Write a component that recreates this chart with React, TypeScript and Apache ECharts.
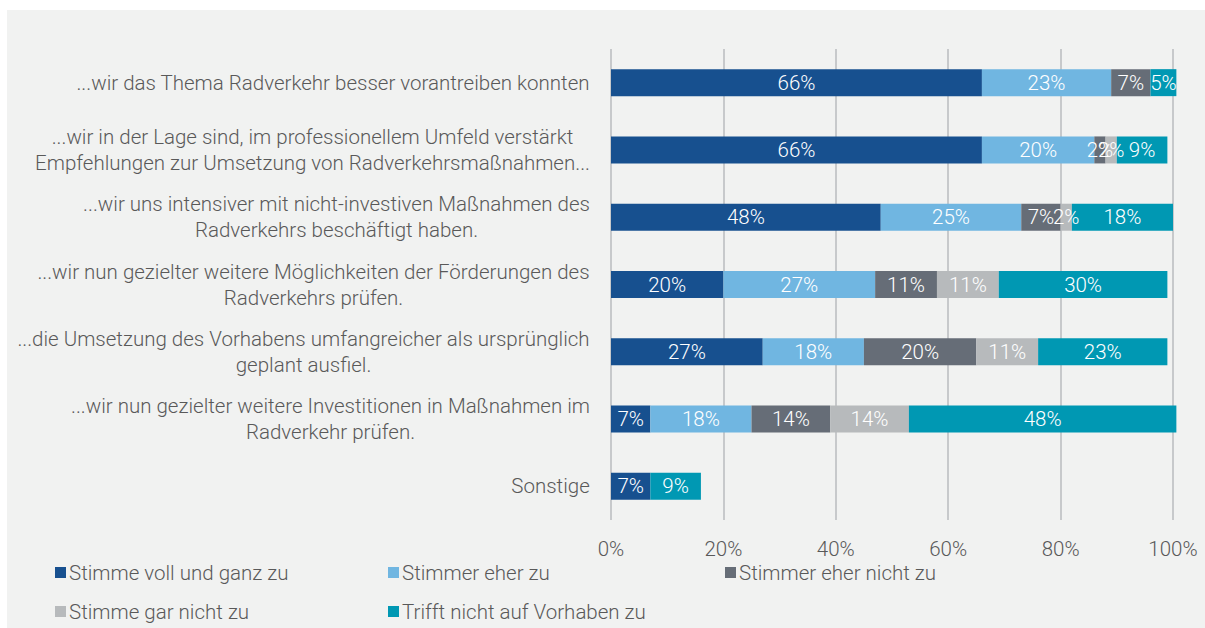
import React, { useEffect, useRef } from "react";
import * as echarts from "echarts";

const categories = [
  "...wir das Thema Radverkehr besser vorantreiben konnten",
  "...wir in der Lage sind, im professionellem Umfeld verstärkt\nEmpfehlungen zur Umsetzung von Radverkehrsmaßnahmen...",
  "...wir uns intensiver mit nicht-investiven Maßnahmen des\nRadverkehrs beschäftigt haben.",
  "...wir nun gezielter weitere Möglichkeiten der Förderungen des\nRadverkehrs prüfen.",
  "...die Umsetzung des Vorhabens umfangreicher als ursprünglich\ngeplant ausfiel.",
  "...wir nun gezielter weitere Investitionen in Maßnahmen im\nRadverkehr prüfen.",
  "Sonstige",
];

const seriesNames = [
  "Stimme voll und ganz zu",
  "Stimmer eher zu",
  "Stimmer eher nicht zu",
  "Stimme gar nicht zu",
  "Trifft nicht auf Vorhaben zu",
];

const vollUndGanz = [66, 66, 48, 20, 27, 7, 7];
const eherZu = [23, 20, 25, 27, 18, 18, 0];
const eherNicht = [7, 2, 7, 11, 20, 14, 0];
const garNicht = [0, 2, 2, 11, 11, 14, 0];
const trifftNicht = [4.6, 9, 18, 30, 23, 47.6, 9];

const xTicks = [0, 20, 40, 60, 80, 100];

const colors = ["#17508f", "#70b6e1", "#666d77", "#b7babc", "#0098b3"];

const FONT = "Roboto";
const TEXT_COLOR = "#595959";
const FS = 20.5;
const FW = 300;

function measure(text: string): number {
  const c = document.createElement("canvas");
  const ctx = c.getContext("2d");
  if (!ctx) return text.length * 10;
  ctx.font = `${FW} ${FS}px ${FONT}`;
  return ctx.measureText(text).width;
}

export default function App() {
  const ref = useRef<HTMLDivElement>(null);

  useEffect(() => {
    if (!ref.current) return;
    const chart = echarts.init(ref.current, undefined, { renderer: "svg" });

    const rich: Record<string, any> = {};
    categories.forEach((c, i) => {
      const lines = c.split("\n");
      const w = Math.ceil(Math.max(...lines.map(measure)));
      rich["c" + i] = {
        width: w,
        align: "center",
        fontSize: FS,
        fontWeight: FW,
        fontFamily: FONT,
        color: TEXT_COLOR,
        lineHeight: 26,
      };
    });

    const data = [vollUndGanz, eherZu, eherNicht, garNicht, trifftNicht];

    const legendPos = [
      { left: 55, top: 562 },
      { left: 388, top: 562 },
      { left: 725, top: 562 },
      { left: 55, top: 601 },
      { left: 388, top: 601 },
    ];

    chart.setOption({
      animation: false,
      backgroundColor: "#ffffff",
      graphic: [
        {
          type: "rect",
          shape: { x: 7, y: 10, width: 1198, height: 618 },
          style: { fill: "#f1f2f1" },
          z: -10,
          silent: true,
        },
      ],
      grid: { left: 611, right: 32, top: 49, bottom: 108, containLabel: false },
      legend: seriesNames.map((n, i) => ({
        data: [n],
        left: legendPos[i].left,
        top: legendPos[i].top,
        icon: "rect",
        itemWidth: 11,
        itemHeight: 11,
        itemGap: 0,
        padding: 0,
        selectedMode: false,
        textStyle: {
          fontSize: FS,
          fontWeight: FW,
          fontFamily: FONT,
          color: TEXT_COLOR,
          padding: [0, 0, 0, -2],
        },
      })),
      xAxis: {
        type: "value",
        min: xTicks[0],
        max: xTicks[xTicks.length - 1],
        interval: xTicks[1] - xTicks[0],
        axisLine: { show: false },
        axisTick: { show: false },
        axisLabel: {
          formatter: "{value}%",
          fontSize: FS,
          fontWeight: FW,
          fontFamily: FONT,
          color: TEXT_COLOR,
          margin: 18,
        },
        splitLine: { show: true, lineStyle: { color: "#c7c9cb", width: 2 } },
      },
      yAxis: {
        type: "category",
        data: categories,
        inverse: true,
        axisLine: { show: false },
        axisTick: { show: false },
        axisLabel: {
          margin: 21,
          formatter: (v: string, i: number) =>
            v
              .split("\n")
              .map((l) => `{c${i}|${l}}`)
              .join("\n"),
          rich,
        },
      },
      series: seriesNames.map((n, i) => ({
        name: n,
        type: "bar",
        stack: "total",
        barWidth: 27,
        clip: false,
        data: data[i],
        itemStyle: { color: colors[i] },
        label: {
          show: true,
          position: "inside",
          color: "#ffffff",
          fontSize: FS,
          fontWeight: FW,
          fontFamily: FONT,
          formatter: (p: any) => (p.value ? Math.round(p.value) + "%" : ""),
        },
      })),
    });

    return () => chart.dispose();
  }, []);

  return (
    <div
      ref={ref}
      style={{ position: "fixed", left: 0, top: 0, width: 1205, height: 628 }}
    />
  );
}
